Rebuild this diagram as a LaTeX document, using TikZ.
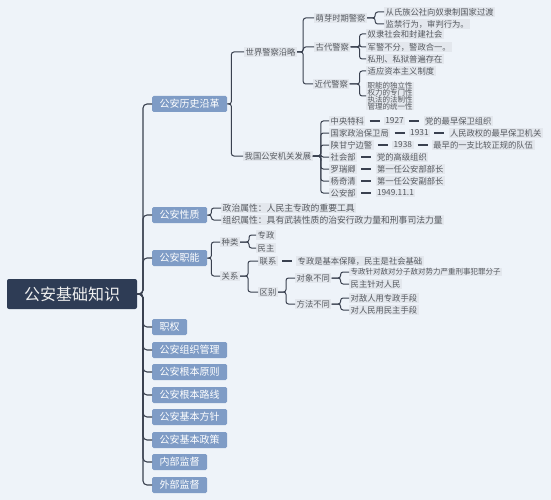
\documentclass[tikz,border=0pt]{standalone}
\usepackage{fontspec}
\setmainfont{Noto Sans CJK SC}
\usetikzlibrary{positioning}
\definecolor{bgc}{HTML}{EEF3F9}
\definecolor{rootc}{HTML}{2E3C55}
\definecolor{l1c}{HTML}{7F9CC6}
\definecolor{linec}{HTML}{3A4150}
\definecolor{txtc}{HTML}{55595F}
\definecolor{lblc}{HTML}{E3E7ED}
\newcommand{\mybr}[3]{\draw[brk] (#1.east) -- ++(#2,0) |- (#3.west);}
\newcommand{\mydash}[2]{\draw[dashc] (#1.east) -- (#2.west);}
\begin{document}
\begin{tikzpicture}[x=1pt,y=-1pt,
 rootbox/.style={fill=rootc, text=white!88!gray, rounded corners=2pt, minimum width=130pt, minimum height=30pt, inner sep=0pt, font=\fontsize{16}{18}\selectfont},
 topic/.style={fill=l1c, text=white, rounded corners=1.5pt, anchor=west, minimum height=16pt, inner xsep=7.5pt, inner ysep=0pt, font=\fontsize{10}{12}\selectfont},
 lbl/.style={fill=lblc, text=txtc, anchor=west, inner xsep=1.5pt, inner ysep=1pt, font=\fontsize{8.3}{9}\selectfont},
 conn/.style={draw=linec, line width=1.1pt, rounded corners=4pt},
 brk/.style={draw=linec, line width=1pt, rounded corners=2.5pt},
 dashc/.style={draw=linec, line width=1.2pt, shorten <=4pt, shorten >=4pt},
 node distance=18pt
]
\useasboundingbox[fill=bgc] (0,0) rectangle (551,500);

% root
\node[rootbox] (root) at (72,294) {公安基础知识};

% level 1
\node[topic] (a1) at (152,104) {公安历史沿革};
\node[topic] (a2) at (152,215) {公安性质};
\node[topic] (a3) at (152,258) {公安职能};
\node[topic] (a4) at (152,327) {职权};
\node[topic] (a5) at (152,350) {公安组织管理};
\node[topic] (a6) at (152,372) {公安根本原则};
\node[topic] (a7) at (152,395) {公安根本路线};
\node[topic] (a8) at (152,417) {公安基本方针};
\node[topic] (a9) at (152,440) {公安基本政策};
\node[topic] (a10) at (152,462) {内部监督};
\node[topic] (a11) at (152,485) {外部监督};
\coordinate (T) at (143,294);
\foreach \n in {a1,a2,a3,a4,a5,a6,a7,a8,a9,a10,a11}
  {\draw[conn] (root.east) -- (T) |- (\n.west);}

% 公安历史沿革
\node[lbl] (b1) at (244,52) {世界警察沿略};
\node[lbl] (b2) at (243,156) {我国公安机关发展};
\mybr{a1}{4}{b1}
\mybr{a1}{4}{b2}

\node[lbl] (c1) at (314,18) {萌芽时期警察};
\node[lbl] (c2) at (314,47) {古代警察};
\node[lbl] (c3) at (313,84) {近代警察};
\mybr{b1}{6}{c1}
\mybr{b1}{6}{c2}
\mybr{b1}{6}{c3}

\node[lbl] (d1) at (384,12) {从氏族公社向奴隶制国家过渡};
\node[lbl] (d2) at (384,24) {监禁行为，审判行为。};
\mybr{c1}{8}{d1}
\mybr{c1}{8}{d2}

\node[lbl] (d3) at (366,34) {奴隶社会和封建社会};
\node[lbl] (d4) at (366,47) {军警不分，警政合一。};
\node[lbl] (d5) at (366,59) {私刑、私狱普遍存在};
\mybr{c2}{9}{d3}
\mybr{c2}{9}{d4}
\mybr{c2}{9}{d5}

\node[lbl] (d6) at (366,71) {适应资本主义制度};
\node[lbl, align=left, inner ysep=0.5pt, font=\fontsize{7.5}{7}\selectfont] (d7) at (366,96) {职能的独立性\\权力的专门性\\执法的法制性\\管理的统一性};
\mybr{c3}{10}{d6}
\mybr{c3}{10}{d7}

% 我国公安机关发展
\node[lbl] (e1a) at (329,121) {中央特科};
\node[lbl,right=of e1a] (e1b) {1927};
\node[lbl,right=of e1b] (e1c) {党的最早保卫组织};
\node[lbl] (e2a) at (329,133) {国家政治保卫局};
\node[lbl,right=of e2a] (e2b) {1931};
\node[lbl,right=of e2b] (e2c) {人民政权的最早保卫机关};
\node[lbl] (e3a) at (329,145) {陕甘宁边警};
\node[lbl,right=of e3a] (e3b) {1938};
\node[lbl,right=of e3b] (e3c) {最早的一支比较正规的队伍};
\node[lbl] (e4a) at (329,157) {社会部};
\node[lbl,right=of e4a] (e4c) {党的高级组织};
\node[lbl] (e5a) at (329,169) {罗瑞卿};
\node[lbl,right=of e5a] (e5c) {第一任公安部部长};
\node[lbl] (e6a) at (329,181) {杨奇清};
\node[lbl,right=of e6a] (e6c) {第一任公安副部长};
\node[lbl] (e7a) at (329,193) {公安部};
\node[lbl,right=of e7a] (e7c) {1949.11.1};
\foreach \n in {e1a,e2a,e3a,e4a,e5a,e6a,e7a}
  {\mybr{b2}{8}{\n}}
\mydash{e1a}{e1b}\mydash{e1b}{e1c}
\mydash{e2a}{e2b}\mydash{e2b}{e2c}
\mydash{e3a}{e3b}\mydash{e3b}{e3c}
\mydash{e4a}{e4c}
\mydash{e5a}{e5c}
\mydash{e6a}{e6c}
\mydash{e7a}{e7c}

% 公安性质
\node[lbl, font=\fontsize{8.8}{10}\selectfont] (f1) at (221,208) {政治属性：人民主专政的重要工具};
\node[lbl, font=\fontsize{8.8}{10}\selectfont] (f2) at (221,220) {组织属性：具有武装性质的治安行政力量和刑事司法力量};
\mybr{a2}{4}{f1}
\mybr{a2}{4}{f2}

% 公安职能
\node[lbl] (g1) at (220,242) {种类};
\node[lbl] (g2) at (220,276) {关系};
\mybr{a3}{4}{g1}
\mybr{a3}{4}{g2}

\node[lbl] (h1) at (256,235) {专政};
\node[lbl] (h2) at (256,248) {民主};
\mybr{g1}{9}{h1}
\mybr{g1}{9}{h2}

\node[lbl] (h3) at (258,261) {联系};
\node[lbl,right=of h3] (h3c) {专政是基本保障，民主是社会基础};
\node[lbl] (h4) at (258,292) {区别};
\mybr{g2}{8}{h3}
\mybr{g2}{8}{h4}
\mydash{h3}{h3c}

\node[lbl] (i1) at (295,278) {对象不同};
\node[lbl] (i2) at (295,304) {方法不同};
\mybr{h4}{8}{i1}
\mybr{h4}{8}{i2}

\node[lbl, font=\fontsize{7.5}{9}\selectfont] (j1) at (349,272) {专政针对敌对分子敌对势力严重刑事犯罪分子};
\node[lbl] (j2) at (349,284) {民主针对人民};
\mybr{i1}{9}{j1}
\mybr{i1}{9}{j2}
\node[lbl] (j3) at (349,298) {对敌人用专政手段};
\node[lbl] (j4) at (349,310) {对人民用民主手段};
\mybr{i2}{9}{j3}
\mybr{i2}{9}{j4}
\end{tikzpicture}
\end{document}
